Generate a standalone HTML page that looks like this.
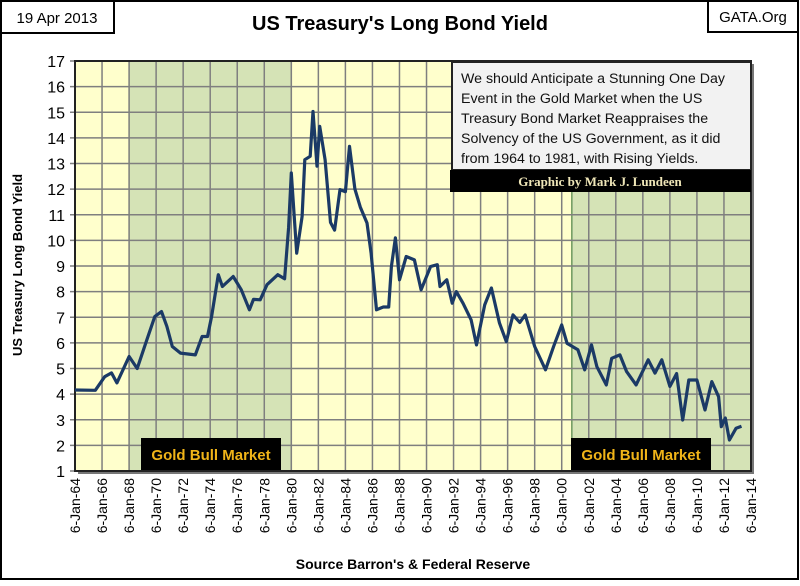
<!DOCTYPE html>
<html><head><meta charset="utf-8"><style>
body{margin:0;background:#fff;}
svg text{font-family:"Liberation Sans",sans-serif;}
</style></head><body>
<svg width="800" height="581" xmlns="http://www.w3.org/2000/svg">
<rect x="1" y="1" width="797" height="578" fill="#fff" stroke="#000" stroke-width="2"/>
<rect x="1" y="1" width="113" height="32" fill="#fff" stroke="#000" stroke-width="2"/>
<text x="57" y="23" font-size="15" text-anchor="middle">19 Apr 2013</text>
<rect x="708" y="1" width="90" height="31" fill="#fff" stroke="#000" stroke-width="2"/>
<text x="753" y="22" font-size="15" text-anchor="middle">GATA.Org</text>
<text x="400" y="30" font-size="20" font-weight="bold" text-anchor="middle">US Treasury's Long Bond Yield</text>
<g id="plot"></g>
<text transform="translate(22,265) rotate(-90)" font-size="13" font-weight="bold" text-anchor="middle">US Treasury  Long Bond Yield</text>
<text x="413" y="569" font-size="14" font-weight="bold" text-anchor="middle">Source Barron's &amp; Federal Reserve</text>
</svg>
<script>
const years=[1964,1965.5,1966.2,1966.7,1967.1,1968.0,1968.6,1969.3,1969.9,1970.4,1970.8,1971.2,1971.8,1972.9,1973.4,1973.8,1974.1,1974.6,1974.9,1975.7,1976.3,1976.9,1977.2,1977.7,1978.2,1979.0,1979.5,1979.8,1980.0,1980.4,1980.8,1981.0,1981.4,1981.6,1981.9,1982.1,1982.5,1982.9,1983.2,1983.6,1984.0,1984.3,1984.7,1985.1,1985.6,1985.9,1986.3,1986.8,1987.2,1987.4,1987.7,1988.0,1988.5,1989.1,1989.6,1990.3,1990.8,1991.0,1991.5,1991.9,1992.2,1992.7,1993.3,1993.7,1994.3,1994.8,1995.4,1995.9,1996.4,1996.9,1997.3,1998.0,1998.8,1999.4,2000.0,2000.4,2001.2,2001.7,2002.2,2002.6,2003.3,2003.7,2004.3,2004.8,2005.5,2006.4,2006.9,2007.4,2008.0,2008.5,2008.95,2009.4,2010.0,2010.6,2011.1,2011.6,2011.8,2012.1,2012.4,2012.9,2013.3];
const yields=[4.16,4.15,4.68,4.83,4.44,5.47,5.0,6.1,7.03,7.22,6.64,5.86,5.6,5.53,6.25,6.25,7.03,8.66,8.2,8.59,8.07,7.29,7.7,7.68,8.27,8.66,8.5,10.5,12.63,9.5,10.93,13.15,13.28,15.03,12.9,14.45,13.15,10.7,10.4,11.98,11.9,13.67,12.0,11.3,10.68,9.5,7.29,7.4,7.4,8.98,10.1,8.46,9.37,9.24,8.07,8.98,9.05,8.2,8.46,7.55,8.0,7.55,6.9,5.92,7.48,8.14,6.77,6.05,7.09,6.8,7.09,5.86,4.95,5.86,6.7,5.98,5.73,4.95,5.92,5.07,4.36,5.4,5.53,4.88,4.36,5.34,4.82,5.34,4.3,4.8,2.99,4.55,4.55,3.38,4.49,3.9,2.73,3.07,2.21,2.67,2.75];
const xTicks=["6-Jan-64","6-Jan-66","6-Jan-68","6-Jan-70","6-Jan-72","6-Jan-74","6-Jan-76","6-Jan-78","6-Jan-80","6-Jan-82","6-Jan-84","6-Jan-86","6-Jan-88","6-Jan-90","6-Jan-92","6-Jan-94","6-Jan-96","6-Jan-98","6-Jan-00","6-Jan-02","6-Jan-04","6-Jan-06","6-Jan-08","6-Jan-10","6-Jan-12","6-Jan-14"];
const yTicks=[1,2,3,4,5,6,7,8,9,10,11,12,13,14,15,16,17];
const bullPeriods=[[1968,1980],[2000.75,2014]];

const NS="http://www.w3.org/2000/svg";
const L=75,R=751,T=61,B=471,X0=1964,X1=2014,Y0=1,Y1=17;
const xs=v=>L+(v-X0)/(X1-X0)*(R-L);
const ys=v=>B-(v-Y0)/(Y1-Y0)*(B-T);
const g=document.getElementById('plot');
function mk(t,a,p){const e=document.createElementNS(NS,t);for(const k in a)e.setAttribute(k,a[k]);(p||g).appendChild(e);return e;}

const sh=mk('rect',{x:L+3,y:T+3,width:R-L,height:B-T,fill:'#777'});


const bg=mk('rect',{x:L,y:T,width:R-L,height:B-T,fill:'#ffffcc'});


bullPeriods.forEach((p,i)=>{
 const r=mk('rect',{x:xs(p[0]),y:T,width:xs(p[1])-xs(p[0]),height:B-T,fill:'#d5e3b6',stroke:'#2e6b2e','stroke-width':1});
 
 
});
yTicks.forEach(v=>{
 const l=mk('line',{x1:L-5,x2:R,y1:ys(v),y2:ys(v),stroke:'#7f7f7f','stroke-width':1.5});
 
 
 const t=mk('text',{x:L-10,y:ys(v)+6,'font-size':16,'text-anchor':'end'});
 t.textContent=v;
 
 
});
xTicks.forEach((s,i)=>{
 const x=xs(X0+2*i);
 const l=mk('line',{x1:x,x2:x,y1:T,y2:B,stroke:'#7f7f7f','stroke-width':1.5});
 
 
 const t=mk('text',{transform:`translate(${x+5},${478}) rotate(-90)`,'font-size':14,'text-anchor':'end'});
 t.textContent=s;
 
 
});
const fr=mk('rect',{x:L,y:T,width:R-L,height:B-T,fill:'none',stroke:'#222','stroke-width':2});


const pts=years.map((y,i)=>xs(y).toFixed(1)+','+ys(yields[i]).toFixed(1)).join(' ');
const line=mk('polyline',{points:pts,fill:'none',stroke:'#1b3a66','stroke-width':3.2,'stroke-linejoin':'round'});



// annotation
const ab=mk('rect',{x:452,y:62,width:299,height:108,fill:'#f2f2f2',stroke:'#222','stroke-width':2});


["We should Anticipate a Stunning One Day","Event in the Gold Market when the US","Treasury Bond Market Reappraises the","Solvency of the US Government, as it did","from 1964 to 1981, with Rising Yields."].forEach((s,i)=>{
 const t=mk('text',{x:461,y:83+i*20,'font-size':14.2,fill:'#111'});
 t.textContent=s;
 
 
});
const cb=mk('rect',{x:450,y:170,width:301,height:22,fill:'#000'});


const ct=mk('text',{x:600,y:186,'font-size':13,'font-weight':'bold','text-anchor':'middle',fill:'#efe6b8',style:'font-family:"Liberation Serif",serif'});
ct.textContent='Graphic by Mark J. Lundeen';


[[141,281],[571,711]].forEach(p=>{
 const r=mk('rect',{x:p[0],y:438,width:p[1]-p[0],height:32,fill:'#000'});
 
 
 const t=mk('text',{x:(p[0]+p[1])/2,y:460,'font-size':15,'font-weight':'bold','text-anchor':'middle',fill:'#f0b418'});
 t.textContent='Gold Bull Market';
 
 
});
</script>
</body></html>
